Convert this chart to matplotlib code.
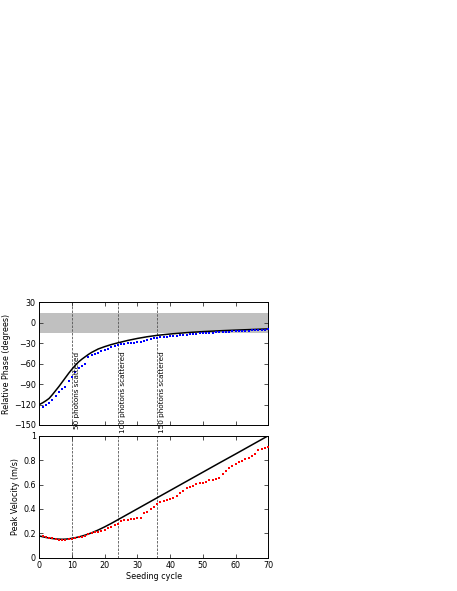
import numpy as np
import matplotlib
matplotlib.use("Agg")
import matplotlib.pyplot as plt

# ---------------- data ----------------
cycles = list(range(1, 71))

phase_meas = [-123, -121, -118, -113, -107, -102, -97, -94, -86, -79,
              -72, -66, -64, -60, -50, -48, -46, -44, -41, -40,
              -38, -36, -34, -33, -31.5, -30.5, -30, -29.5, -29, -28.5,
              -28, -26.5, -25, -24, -23, -22, -21.5, -21, -20.5, -20,
              -19.5, -19, -18.5, -18, -17.5, -17, -16.5, -16, -15.7, -15.4,
              -15.1, -14.8, -14.5, -14.2, -14, -13.7, -13.4, -13.1, -12.8, -12.5,
              -12.2, -12, -11.7, -11.4, -11.2, -11, -10.7, -10.4, -10.1, -9.6]

theory_x = [0, 1, 2, 3, 4, 5, 6, 7, 8, 9, 10, 11, 12, 13, 14, 15, 16, 18, 20,
            22, 24, 27, 30, 33, 36, 40, 45, 50, 55, 60, 65, 70]
phase_theory = [-120, -117.5, -114.5, -111, -105.5, -99.5, -93.5, -87, -80.5, -74,
                -68, -62.5, -57.5, -53.5, -50, -46.5, -43.5, -38.5, -35,
                -32, -29.5, -26, -23, -20.5, -18.5, -16.5, -14.5, -13, -11.8,
                -10.8, -9.9, -9]

vel_meas = [0.178, 0.167, 0.164, 0.158, 0.150, 0.145, 0.145, 0.148, 0.150, 0.156,
            0.161, 0.167, 0.172, 0.178, 0.197, 0.202, 0.208, 0.213, 0.221, 0.227,
            0.240, 0.251, 0.265, 0.278, 0.300, 0.306, 0.311, 0.317, 0.320, 0.322,
            0.328, 0.366, 0.372, 0.400, 0.418, 0.440, 0.456, 0.467, 0.475, 0.478,
            0.492, 0.505, 0.530, 0.549, 0.571, 0.577, 0.590, 0.604, 0.609, 0.612,
            0.620, 0.634, 0.639, 0.642, 0.653, 0.686, 0.713, 0.732, 0.749, 0.770,
            0.784, 0.795, 0.806, 0.814, 0.830, 0.850, 0.880, 0.893, 0.896, 0.904]

vel_theory = [0.178, 0.172, 0.166, 0.161, 0.157, 0.154, 0.152, 0.151, 0.152, 0.155,
              0.159, 0.164, 0.170, 0.177, 0.185, 0.194, 0.204, 0.227, 0.253,
              0.281, 0.311, 0.356, 0.401, 0.446, 0.491, 0.551, 0.626, 0.701, 0.776,
              0.850, 0.925, 1.0]

marks = [10, 24, 36]
mark_labels = ["50 photons scattered", "100 photons scattered", "150 photons scattered"]

phase_ticks = [30, 0, -30, -60, -90, -120, -150]
vel_ticks = [0, 0.2, 0.4, 0.6, 0.8, 1]
vel_ticklabels = ["0", "0.2", "0.4", "0.6", "0.8", "1"]
x_ticks = [0, 10, 20, 30, 40, 50, 60, 70]

# ---------------- figure ----------------
FS = 5.8
plt.rcParams['font.family'] = ['DejaVu Sans']
fig = plt.figure(figsize=(4.57, 5.91), dpi=100)

left, right = 39.3 / 457, 268.3 / 457
ax1 = fig.add_axes([left, 1 - 425.0 / 591, right - left, (425.0 - 302.3) / 591])
ax2 = fig.add_axes([left, 1 - 557.7 / 591, right - left, (557.7 - 435.7) / 591])

for ax in (ax1, ax2):
    ax.set_xlim(0, 70)
    ax.set_xticks(x_ticks)
    ax.tick_params(direction='in', length=3, width=0.6, top=True, right=True,
                   labelsize=FS, pad=2.5, color='#333333')
    for s in ax.spines.values():
        s.set_linewidth(0.7)
    for m in marks:
        ax.axvline(m, color='#555555', lw=0.6, ls=(0, (3, 1.5)), zorder=1)

# top panel
ax1.axhspan(-15, 15, color='#c0c0c0', lw=0, zorder=0)
ax1.plot(theory_x, phase_theory, color='black', lw=1.1, zorder=3)
ax1.plot(cycles, phase_meas, ls='none', marker='s', ms=1.7, mew=0,
         color='#0000ff', zorder=4)
ax1.set_ylim(-150, 30)
ax1.set_yticks(phase_ticks)
ax1.set_xticklabels([])
ax1.set_ylabel("Relative Phase (degrees)", fontsize=FS, labelpad=2)
for m, lab in zip(marks, mark_labels):
    ax1.text(m + 0.6, -42, lab, rotation=90, fontsize=5.2,
             ha='left', va='top', zorder=5)

# bottom panel
ax2.plot(theory_x, vel_theory, color='black', lw=1.1, zorder=3)
ax2.plot(cycles, vel_meas, ls='none', marker='s', ms=1.7, mew=0,
         color='#ff0000', zorder=4)
ax2.set_ylim(0, 1)
ax2.set_yticks(vel_ticks)
ax2.set_yticklabels(vel_ticklabels)
ax2.set_xticklabels([str(t) for t in x_ticks])
ax2.set_xlabel("Seeding cycle", fontsize=FS, labelpad=1.5)
ax2.set_ylabel("Peak Velocity (m/s)", fontsize=FS, labelpad=2)

fig.savefig("out.png", dpi=100)
